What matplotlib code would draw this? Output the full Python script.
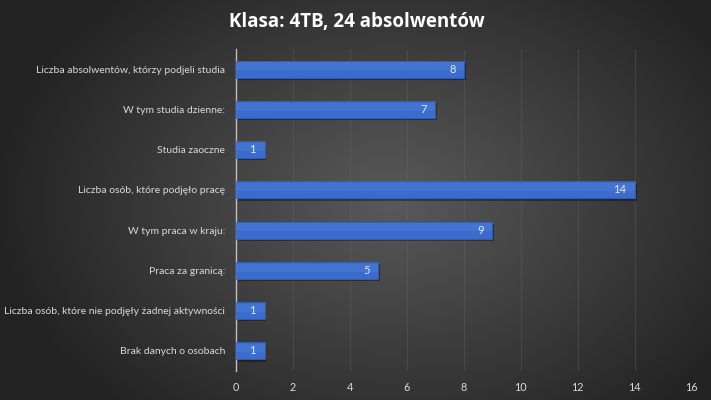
import numpy as np
import matplotlib
matplotlib.use("Agg")
import matplotlib.pyplot as plt

categories = [
    "Liczba absolwentów, którzy podjeli studia",
    "W tym studia dzienne:",
    "Studia zaoczne",
    "Liczba osób, które podjęło pracę",
    "W tym praca w kraju:",
    "Praca za granicą:",
    "Liczba osób, które nie podjęły żadnej aktywności",
    "Brak danych o osobach",
]
values = [8, 7, 1, 14, 9, 5, 1, 1]
xticks = [0, 2, 4, 6, 8, 10, 12, 14, 16]
title = "Klasa: 4TB, 24 absolwentów"

plt.rcParams['font.family'] = ['Lato', 'DejaVu Sans']

fig = plt.figure(figsize=(7.11, 4.0), dpi=100)

# radial gradient background
bg = fig.add_axes([0, 0, 1, 1], zorder=-10)
yy, xx = np.mgrid[-1:1:400j, -1:1:711j]
r = np.sqrt(((xx - 0.1) * 0.95) ** 2 + (yy * 0.75) ** 2)
shade = np.clip(0.35 - 0.2 * r, 0.14, 0.35)
bg.imshow(np.dstack([shade] * 3), aspect='auto', extent=[0, 1, 0, 1])
bg.axis('off')

ax = fig.add_axes([0.332, 0.0725, 0.641, 0.805])
ax.set_facecolor('none')
y = np.arange(len(categories))

# shadow then bars
ax.barh(y + 0.06, values, height=0.42, left=0.06, color='black', alpha=0.35, zorder=2)
ax.barh(y, values, height=0.42, color='#3b6bcc', edgecolor='#3461bd',
        linewidth=0.5, zorder=3)
ax.barh(y - 0.07, values, height=0.2, color='#5585e0', alpha=0.35, zorder=4,
        linewidth=0)

for yi, v in zip(y, values):
    ax.text(v - 0.3, yi, str(v), ha='right', va='center', color='#e4ebf8',
            fontsize=8, zorder=5)

ax.set_ylim(len(categories) - 0.5, -0.5)
ax.set_xlim(0, 16)
ax.set_xticks(xticks)
ax.set_yticks(y)
ax.set_yticklabels(categories)
ax.tick_params(axis='both', length=0, colors='#d9d9d9', labelsize=7.5)
ax.tick_params(axis='y', pad=8)
ax.tick_params(axis='x', pad=8, labelsize=7.8)
ax.grid(axis='x', color='#6a6a6a', linewidth=0.6, alpha=0.4, zorder=0)
ax.set_axisbelow(True)
for s in ['top', 'right', 'bottom']:
    ax.spines[s].set_visible(False)
ax.spines['left'].set_color('#bfbfbf')
ax.spines['left'].set_linewidth(1.0)

fig.text(0.502, 0.945, title, ha='center', va='center', color='white',
         fontsize=13.5, fontweight='bold', family=['Open Sans', 'DejaVu Sans'])

fig.savefig('out.png', dpi=100)
